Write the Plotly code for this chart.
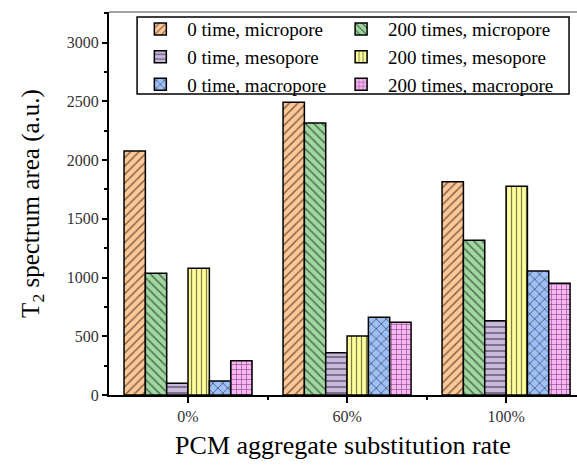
import plotly.graph_objects as go

categories = ["0%", "60%", "100%"]
cat_pos = [0, 1, 2]

series_names = [
    "0 time, micropore", "200 times, micropore",
    "0 time, mesopore", "200 times, mesopore",
    "0 time, macropore", "200 times, macropore",
]
v_0_micro = [2077, 2491, 1815]
v_200_micro = [1036, 2315, 1317]
v_0_meso = [100, 360, 632]
v_200_meso = [1078, 502, 1776]
v_0_macro = [119, 661, 1055]
v_200_macro = [292, 619, 951]
series_values = [v_0_micro, v_200_micro, v_0_meso, v_200_meso, v_0_macro, v_200_macro]

colors = ["#FFC896", "#A0D8A0", "#C8B8DC", "#FFFF9C", "#9EC0F8", "#FFB4FA"]
patterns = ["/", "\\", "-", "|", "x", "+"]
pat_sizes = [6, 6, 6, 5, 7, 5]
legend_ids = ["legend", "legend2", "legend", "legend2", "legend", "legend2"]

fig = go.Figure()
for name, vals, col, pat, ps, lg in zip(series_names, series_values, colors, patterns, pat_sizes, legend_ids):
    fig.add_trace(go.Bar(
        x=cat_pos, y=vals, name=name, legend=lg,
        marker=dict(color=col, line=dict(color="black", width=1.5),
                    pattern=dict(shape=pat, fgcolor="black", size=ps, solidity=0.25)),
    ))

font_family = "Liberation Serif, Times New Roman, Times, serif"
legend_common = dict(
    orientation="v", yanchor="top", xanchor="left",
    font=dict(family=font_family, size=19, color="black"),
    bgcolor="rgba(0,0,0,0)", borderwidth=0, itemwidth=44, tracegroupgap=0,
)
fig.update_layout(
    width=577, height=468,
    margin=dict(l=109, r=0, t=12, b=73),
    plot_bgcolor="white", paper_bgcolor="white",
    barmode="group", bargap=0.195, bargroupgap=0,
    font=dict(family=font_family, color="black"),
    legend=dict(x=0.052, y=1.005, **legend_common),
    legend2=dict(x=0.481, y=1.005, **legend_common),
    xaxis=dict(
        range=[-0.497, 2.446], tickvals=cat_pos, ticktext=categories,
        showline=True, linecolor="black", linewidth=2,
        ticks="outside", ticklen=6, tickwidth=1.5, tickcolor="black",
        minor=dict(tick0=0.5, dtick=1, ticks="outside", ticklen=3, tickwidth=1.5, tickcolor="black"),
        showgrid=False, zeroline=False,
        tickfont=dict(family=font_family, size=16, color="#333333"),
        title=dict(text="PCM aggregate substitution rate",
                   font=dict(family=font_family, size=26, color="black"), standoff=12),
    ),
    yaxis=dict(
        range=[0, 3260], tickvals=[0, 500, 1000, 1500, 2000, 2500, 3000],
        showline=True, linecolor="black", linewidth=2,
        ticks="outside", ticklen=5, tickwidth=1.5, tickcolor="black",
        minor=dict(dtick=250, ticks="outside", ticklen=3, tickwidth=1.5, tickcolor="black"),
        showgrid=False, zeroline=False,
        tickfont=dict(family=font_family, size=16, color="#333333"),
        title=dict(text="T<sub>2</sub> spectrum area (a.u.)",
                   font=dict(family=font_family, size=25, color="black"), standoff=20),
    ),
    shapes=[
        dict(type="line", xref="paper", yref="paper", x0=0, x1=1, y0=1, y1=1,
             line=dict(color="#444444", width=1.2)),
        dict(type="rect", xref="paper", yref="paper", x0=0.06, x1=0.983, y0=0.786, y1=0.987,
             line=dict(color="black", width=1.5), fillcolor="rgba(0,0,0,0)", layer="above"),
    ],
)

fig.write_html("out.html")
